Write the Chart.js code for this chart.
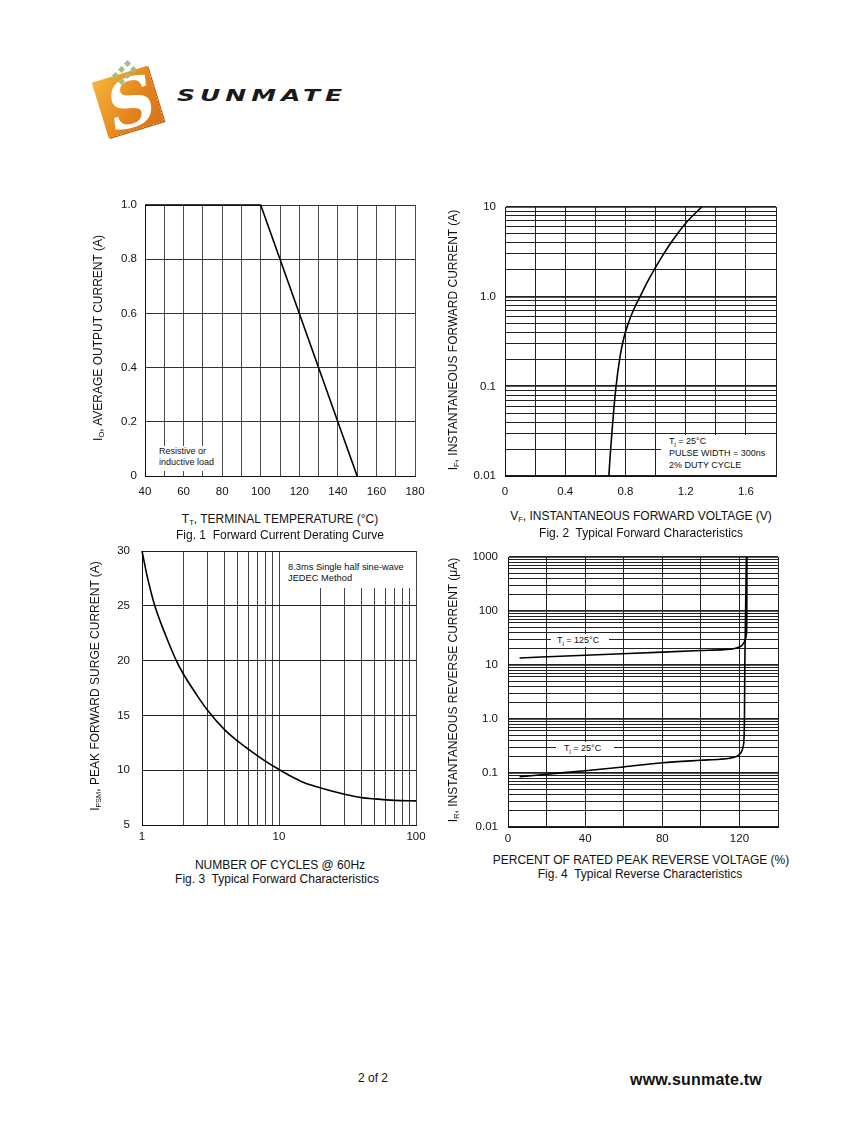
<!DOCTYPE html>
<html>
<head>
<meta charset="utf-8">
<title>Sunmate datasheet - page 2</title>
<script src="https://cdn.jsdelivr.net/npm/chart.js@4.4.1/dist/chart.umd.min.js"></script>
<style>
  body { margin: 0; background: #fff; }
  #page { position: relative; width: 847px; height: 1125px; overflow: hidden;
          font-family: "Liberation Sans", Arial, sans-serif; color: #111; }
  canvas { position: absolute; }
  .txt { position: absolute; white-space: nowrap; font-size: 12px; line-height: 14px; }
  .ctr { transform: translate(-50%, -50%); }
  .rot { transform: translate(-50%, -50%) rotate(-90deg); }
  .note { position: absolute; background: #fff; font-size: 9px; line-height: 11px; white-space: nowrap; }
  sub { font-size: 7.5px; vertical-align: -2px; line-height: 0; }
  .note sub { font-size: 6px; }
  /* logo */
  #logoBox { position: absolute; left: 99px; top: 73px; width: 58px; height: 58px;
             transform: rotate(-17deg); background: linear-gradient(135deg, #f7b43a, #e3831c 60%, #d9731a);
             box-shadow: 1px 1px 0 #b35f10; overflow: hidden; }
  #logoS { position: absolute; left: 8px; top: -8px; font: italic bold 66px "DejaVu Serif", serif; color: #fff; }
  .dot { position: absolute; width: 5px; height: 5px; background: #9fc27a; transform: rotate(45deg); }
  #logoText { position: absolute; left: 177px; top: 87px; font: italic 900 25px "DejaVu Sans", sans-serif;
              letter-spacing: 5px; transform: scaleY(0.62); transform-origin: left top; color: #1a1a1a; }
</style>
</head>
<body>
<div id="page">
  <div id="logoBox"><div id="logoS">S</div></div>
  <div class="dot" style="left:125px;top:61px"></div>
  <div class="dot" style="left:131px;top:67px"></div>
  <div class="dot" style="left:119px;top:67px"></div>
  <div class="dot" style="left:125px;top:73px"></div>
  <div class="dot" style="left:113px;top:73px"></div>
  <div class="dot" style="left:119px;top:79px"></div>
  <div id="logoText">SUNMATE</div>

  <canvas id="fig1"></canvas>
  <canvas id="fig2"></canvas>
  <canvas id="fig3"></canvas>
  <canvas id="fig4"></canvas>

  <!-- fig 1 text -->
  <div class="txt rot" style="left:98px;top:338px">I<sub>O</sub>, AVERAGE OUTPUT CURRENT (A)</div>
  <div class="txt ctr" style="left:280px;top:519px">T<sub>T</sub>, TERMINAL TEMPERATURE (°C)</div>
  <div class="txt ctr" style="left:280px;top:535px">Fig. 1&nbsp; Forward Current Derating Curve</div>
  <div class="note" style="left:156px;top:446px;width:58px;height:25px;padding-left:3px">Resistive or<br>inductive load</div>

  <!-- fig 2 text -->
  <div class="txt rot" style="left:453px;top:340px">I<sub>F</sub>, INSTANTANEOUS FORWARD CURRENT (A)</div>
  <div class="txt ctr" style="left:641px;top:516px">V<sub>F</sub>, INSTANTANEOUS FORWARD VOLTAGE (V)</div>
  <div class="txt ctr" style="left:641px;top:533px">Fig. 2&nbsp; Typical Forward Characteristics</div>
  <div class="note" style="left:661px;top:435px;width:107px;height:40px;padding-left:8px;line-height:12px">T<sub>j</sub> = 25°C<br>PULSE WIDTH = 300ns<br>2% DUTY CYCLE</div>

  <!-- fig 3 text -->
  <div class="txt rot" style="left:95px;top:686px">I<sub>FSM</sub>, PEAK FORWARD SURGE CURRENT (A)</div>
  <div class="txt ctr" style="left:280px;top:865px">NUMBER OF CYCLES @ 60Hz</div>
  <div class="txt ctr" style="left:277px;top:879px">Fig. 3&nbsp; Typical Forward Characteristics</div>
  <div class="note" style="left:281px;top:552px;width:124px;height:36px;padding-left:7px;font-size:9.3px">
    <div style="margin-top:10px">8.3ms Single half sine-wave<br>JEDEC Method</div></div>

  <!-- fig 4 text -->
  <div class="txt rot" style="left:453px;top:690px">I<sub>R</sub>, INSTANTANEOUS REVERSE CURRENT (μA)</div>
  <div class="txt ctr" style="left:641px;top:860px">PERCENT OF RATED PEAK REVERSE VOLTAGE (%)</div>
  <div class="txt ctr" style="left:640px;top:874px">Fig. 4&nbsp; Typical Reverse Characteristics</div>
  <div class="note" style="left:551px;top:634px;width:52px;height:13px;padding-left:6px;line-height:13px">T<sub>j</sub> = 125°C</div>
  <div class="note" style="left:556px;top:742px;width:50px;height:13px;padding-left:8px;line-height:13px">T<sub>j</sub> = 25°C</div>

  <div class="txt" style="left:358px;top:1071px;font-size:12px">2 of 2</div>
  <div class="txt" style="left:630px;top:1073px;font-size:16px;font-weight:bold;letter-spacing:0.2px">www.sunmate.tw</div>
</div>

<script>
// Fig. 1 - derating curve
const fig1Temp = [40, 100, 150];
const fig1Current = [1.0, 1.0, 0];
const fig1XTicks = [40, 50, 60, 70, 80, 90, 100, 110, 120, 130, 140, 150, 160, 170, 180];
const fig1XLabels = ['40', '', '60', '', '80', '', '100', '', '120', '', '140', '', '160', '', '180'];
const fig1YTicks = [0, 0.2, 0.4, 0.6, 0.8, 1.0];
const fig1YLabels = ['0', '0.2', '0.4', '0.6', '0.8', '1.0'];

// Fig. 2 - forward characteristics
const fig2Voltage = [0.69, 0.698, 0.715, 0.735, 0.764, 0.79, 0.819, 0.855, 0.897, 0.945, 0.996, 1.05, 1.1, 1.2, 1.306];
const fig2Current = [0.01, 0.0164, 0.0387, 0.091, 0.214, 0.35, 0.505, 0.72, 1.0, 1.45, 2.07, 2.92, 3.94, 6.6, 10];
const fig2XTicks = [0, 0.2, 0.4, 0.6, 0.8, 1.0, 1.2, 1.4, 1.6, 1.8];
const fig2XLabels = ['0', '', '0.4', '', '0.8', '', '1.2', '', '1.6', ''];
const fig2YMajor = [0.01, 0.1, 1, 10];
const fig2YMajorLabels = ['0.01', '0.1', '1.0', '10'];

// Fig. 3 - peak surge current
const fig3Cycles = [1, 1.1, 1.24, 1.5, 1.78, 2, 2.5, 3, 4, 5, 6, 8, 10, 12, 15, 20, 25, 30, 40, 50, 70, 100];
const fig3Current = [30, 27.5, 25, 22.2, 20, 18.8, 16.9, 15.5, 13.7, 12.65, 11.9, 10.8, 10.07, 9.5, 8.9, 8.4, 8.05, 7.8, 7.5, 7.38, 7.25, 7.2];
const fig3XMajor = [1, 10, 100];
const fig3XMajorLabels = ['1', '10', '100'];
const fig3YTicks = [5, 10, 15, 20, 25, 30];
const fig3YLabels = ['5', '10', '15', '20', '25', '30'];

// Fig. 4 - reverse characteristics
const fig4Pct125 = [6, 40, 80, 100, 112, 117, 120, 121.5, 122.5, 123.2, 123.6, 123.8, 123.9];
const fig4Ir125 = [13.5, 15.2, 17.3, 18.5, 19.3, 20, 21.5, 23.5, 26.5, 31, 37, 60, 1000];
const fig4Pct25 = [6, 20, 40, 60, 80, 100, 110, 115, 118, 120, 121.3, 122, 122.4, 122.6, 122.8, 123.2, 123.6];
const fig4Ir25 = [0.085, 0.095, 0.11, 0.13, 0.155, 0.172, 0.18, 0.188, 0.2, 0.22, 0.26, 0.32, 0.45, 1, 10, 100, 1000];
const fig4XTicks = [0, 20, 40, 60, 80, 100, 120, 140];
const fig4XLabels = ['0', '', '40', '', '80', '', '120', ''];
const fig4YMajor = [0.01, 0.1, 1, 10, 100, 1000];
const fig4YMajorLabels = ['0.01', '0.1', '1.0', '10', '100', '1000'];

// 1..9 lines in every decade between two powers of ten
function logGrid(lo, hi) {
    var out = [];
    for (var d = lo; d < hi * 0.999; d *= 10) {
        for (var k = 1; k < 10; k++) out.push(+(d * k).toPrecision(3));
    }
    out.push(hi);
    return out;
}
function labelsFor(ticks, major, majorLabels) {
    return ticks.map(function(v) {
        var i = major.indexOf(v);
        return i === -1 ? '' : majorLabels[i];
    });
}

const FONT = { family: '"Liberation Sans", Arial, sans-serif', size: 11.5 };
const PAD = { left: 60, top: 12, right: 25, bottom: 24 };

function placeCanvas(id, area) {
    var c = document.getElementById(id);
    c.width = area.right - area.left + PAD.left + PAD.right;
    c.height = area.bottom - area.top + PAD.top + PAD.bottom;
    c.style.left = (area.left - PAD.left) + 'px';
    c.style.top = (area.top - PAD.top) + 'px';
    return c;
}

function axis(isX, type, min, max, ticks, labels, pad, gridColor, decadeWidth) {
    return {
        type: type,
        min: min,
        max: max,
        grid: {
            drawTicks: false,
            color: gridColor,
            lineWidth: function(ctx) {
                if (!decadeWidth || !ctx.tick) return 1;
                var l = Math.log10(ctx.tick.value);
                return Math.abs(l - Math.round(l)) < 1e-6 ? decadeWidth : 1;
            }
        },
        border: { color: '#111', width: 1 },
        ticks: {
            autoSkip: false,
            maxRotation: 0,
            padding: pad,
            color: '#111',
            font: FONT,
            callback: function(value, index) { return labels[index]; }
        },
        afterBuildTicks: function(scale) {
            scale.ticks = ticks.map(function(v) { return { value: v }; });
        },
        afterFit: function(scale) {
            // fixed frame: no room reserved for label overflow
            if (isX) {
                scale.height = PAD.bottom;
                scale.paddingLeft = 0;
                scale.paddingRight = 0;
            } else {
                scale.width = PAD.left;
                scale.paddingTop = 0;
                scale.paddingBottom = 0;
            }
        }
    };
}

function curve(xs, ys, smooth) {
    return {
        data: xs.map(function(x, i) { return { x: x, y: ys[i] }; }),
        borderColor: '#000',
        borderWidth: 1.6,
        pointRadius: 0,
        fill: false,
        cubicInterpolationMode: smooth ? 'monotone' : 'default',
        tension: 0,
        clip: 3
    };
}

function makeChart(id, area, datasets, xAxis, yAxis) {
    var canvas = placeCanvas(id, area);
    return new Chart(canvas.getContext('2d'), {
        type: 'line',
        data: { datasets: datasets },
        options: {
            responsive: false,
            animation: false,
            events: [],
            layout: { padding: { left: 0, top: PAD.top, right: PAD.right, bottom: 0 } },
            plugins: { legend: { display: false }, tooltip: { enabled: false } },
            scales: { x: xAxis, y: yAxis }
        }
    });
}

var fig2YTicks = logGrid(0.01, 10);
var fig3XTicks = logGrid(1, 100);
var fig4YTicks = logGrid(0.01, 1000);

makeChart('fig1', { left: 145, top: 205, right: 415, bottom: 476 },
    [curve(fig1Temp, fig1Current, false)],
    axis(true, 'linear', 40, 180, fig1XTicks, fig1XLabels, 9, '#4a4a4a'),
    axis(false, 'linear', 0, 1.0, fig1YTicks, fig1YLabels, 8, '#333'));

makeChart('fig2', { left: 505, top: 207, right: 776, bottom: 476 },
    [curve(fig2Voltage, fig2Current, true)],
    axis(true, 'linear', 0, 1.8, fig2XTicks, fig2XLabels, 9, '#222'),
    axis(false, 'logarithmic', 0.01, 10, fig2YTicks, labelsFor(fig2YTicks, fig2YMajor, fig2YMajorLabels), 9, '#222', 1.8));

makeChart('fig3', { left: 142, top: 551, right: 416, bottom: 825 },
    [curve(fig3Cycles, fig3Current, true)],
    axis(true, 'logarithmic', 1, 100, fig3XTicks, labelsFor(fig3XTicks, fig3XMajor, fig3XMajorLabels), 5, '#444'),
    axis(false, 'linear', 5, 30, fig3YTicks, fig3YLabels, 12, '#222'));

makeChart('fig4', { left: 508, top: 557, right: 778, bottom: 827 },
    [curve(fig4Pct125, fig4Ir125, true), curve(fig4Pct25, fig4Ir25, true)],
    axis(true, 'linear', 0, 140, fig4XTicks, fig4XLabels, 5, '#222'),
    axis(false, 'logarithmic', 0.01, 1000, fig4YTicks, labelsFor(fig4YTicks, fig4YMajor, fig4YMajorLabels), 10, '#222', 1.8));
</script>
</body>
</html>
